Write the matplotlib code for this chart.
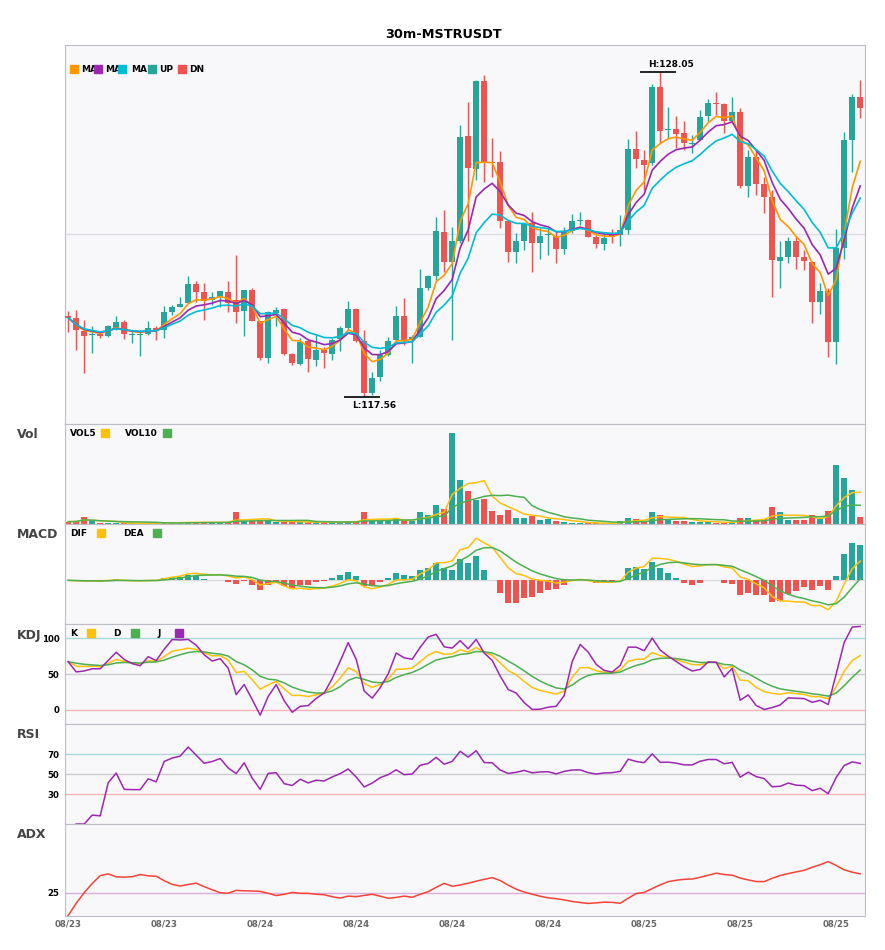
import numpy as np
import pandas as pd
import matplotlib
matplotlib.use("Agg")
import matplotlib.pyplot as plt
from matplotlib.patches import Rectangle

title = "30m-MSTRUSDT"
date_labels = ["08/23", "08/23", "08/24", "08/24", "08/24", "08/24", "08/25", "08/25", "08/25"]

# 30m candles
opens = [120.16, 120.10, 119.70, 119.57, 119.60, 119.53, 119.75, 119.99, 119.56, 119.56,
         119.59, 119.78, 119.71, 120.31, 120.48, 120.61, 121.21, 120.94, 120.70, 120.80,
         120.95, 120.70, 120.34, 121.02, 120.01, 118.81, 120.26, 120.39, 118.95, 118.63,
         119.36, 118.74, 119.08, 118.95, 119.42, 119.80, 120.39, 119.37, 117.68, 118.20,
         118.92, 119.40, 120.16, 119.40, 119.51, 121.09, 121.45, 122.88, 121.91, 122.58,
         125.98, 124.92, 127.76, 125.16, 125.16, 123.24, 122.25, 122.58, 123.17, 122.54,
         122.80, 122.77, 122.33, 122.92, 123.24, 123.27, 122.74, 122.49, 122.78, 122.79,
         122.95, 125.57, 125.21, 125.10, 127.58, 126.18, 126.20, 126.07, 125.74, 125.86,
         126.64, 127.05, 127.02, 126.48, 126.76, 124.37, 125.32, 124.44, 124.03, 121.96,
         122.09, 122.58, 122.09, 121.92, 120.64, 120.99, 119.35, 122.38, 125.86, 127.23]
highs = [120.34, 120.37, 120.03, 119.84, 119.67, 119.89, 120.16, 120.05, 119.73, 119.73,
         120.00, 119.84, 120.50, 120.53, 120.80, 121.45, 121.29, 121.23, 120.96, 120.99,
         121.31, 122.15, 121.02, 121.07, 120.02, 120.34, 120.46, 120.43, 118.97, 119.46,
         119.41, 119.57, 119.19, 119.46, 119.84, 120.67, 120.43, 119.73, 118.38, 119.08,
         119.51, 120.50, 120.75, 119.57, 121.68, 121.50, 123.38, 123.60, 123.06, 126.34,
         127.09, 127.79, 127.95, 125.91, 125.51, 123.28, 122.85, 123.17, 123.54, 123.01,
         123.01, 122.90, 123.06, 123.47, 123.54, 123.31, 122.79, 122.84, 122.99, 123.44,
         125.89, 126.15, 125.53, 127.66, 128.05, 126.93, 126.63, 126.47, 126.02, 126.82,
         127.17, 127.39, 127.04, 127.25, 126.88, 125.53, 125.53, 124.67, 124.25, 122.58,
         122.74, 122.74, 122.31, 121.96, 121.23, 121.07, 122.97, 126.11, 127.34, 127.79]
lows = [119.67, 119.08, 118.33, 118.97, 119.46, 119.49, 119.73, 119.43, 119.30, 118.87,
        119.57, 119.41, 119.46, 120.21, 120.48, 120.59, 120.64, 120.05, 120.53, 120.48,
        120.32, 119.94, 119.53, 120.00, 118.76, 118.65, 119.84, 118.92, 118.60, 118.60,
        118.38, 118.57, 118.49, 118.76, 119.03, 119.75, 119.35, 117.56, 117.63, 118.09,
        118.87, 119.38, 119.24, 118.65, 119.51, 121.02, 121.34, 121.61, 119.40, 122.52,
        122.58, 124.57, 124.51, 124.67, 123.01, 121.93, 121.90, 122.29, 121.59, 122.01,
        122.15, 121.90, 122.18, 122.85, 123.11, 122.72, 122.36, 122.29, 122.54, 122.42,
        122.81, 124.94, 124.24, 125.05, 125.75, 125.91, 125.59, 125.53, 125.43, 125.84,
        126.47, 126.66, 126.09, 126.45, 124.30, 124.00, 124.08, 123.51, 120.80, 121.07,
        121.88, 121.70, 121.66, 119.96, 120.24, 118.85, 118.62, 122.02, 124.83, 126.56]
closes = [120.12, 119.71, 119.54, 119.59, 119.54, 119.84, 119.99, 119.59, 119.58, 119.58,
          119.78, 119.70, 120.31, 120.47, 120.57, 121.21, 120.96, 120.67, 120.78, 120.97,
          120.59, 120.32, 121.02, 120.02, 118.83, 120.29, 120.37, 118.95, 118.65, 119.33,
          118.78, 119.08, 118.97, 119.41, 119.80, 120.39, 119.38, 117.68, 118.17, 118.92,
          119.37, 120.16, 119.40, 119.51, 121.07, 121.45, 122.92, 121.91, 122.60, 125.96,
          124.96, 127.76, 125.16, 125.10, 123.24, 122.25, 122.58, 123.15, 122.52, 122.76,
          122.82, 122.33, 122.92, 123.24, 123.26, 122.74, 122.49, 122.68, 122.73, 122.95,
          125.57, 125.23, 125.05, 127.58, 126.16, 126.21, 126.05, 125.77, 125.76, 126.61,
          127.04, 127.03, 126.48, 126.76, 124.37, 125.32, 124.44, 124.03, 121.99, 122.07,
          122.60, 122.09, 121.96, 120.64, 120.99, 119.35, 122.38, 125.86, 127.23, 126.88]
volumes = [2.3, 2.7, 7.3, 2.7, 1.3, 0.7, 0.7, 1.0, 0.7, 0.7,
           0.7, 1.0, 2.3, 1.0, 1.3, 2.3, 1.3, 2.3, 1.3, 1.3,
           2.3, 12.3, 3.3, 3.3, 3.3, 3.3, 2.3, 2.0, 2.0, 2.0,
           1.7, 2.0, 1.7, 1.7, 1.7, 3.3, 2.0, 12.3, 3.3, 3.3,
           3.3, 5.3, 3.3, 2.7, 12.3, 9.3, 19.3, 15.3, 90.3, 43.3,
           32.7, 23.7, 25.3, 13.3, 9.3, 14.3, 6.3, 6.3, 7.7, 4.3,
           5.3, 2.7, 2.3, 1.3, 0.7, 0.7, 0.7, 0.7, 0.7, 3.3,
           6.3, 5.3, 3.3, 12.3, 9.3, 4.3, 3.3, 3.3, 2.3, 2.3,
           1.7, 1.3, 1.3, 1.3, 6.3, 6.3, 3.7, 5.3, 17.3, 12.3,
           4.3, 4.3, 4.3, 9.3, 5.3, 13.3, 58.3, 45.3, 33.3, 7.3]

df = pd.DataFrame({"open": opens, "high": highs, "low": lows,
                   "close": closes, "volume": volumes})
x = np.arange(len(df))

UP = "#26a69a"
DN = "#ef5350"
up = df["close"] >= df["open"]
colors = np.where(up, UP, DN)

# indicators
ma_a = df["close"].ewm(span=5).mean()
ma_b = df["close"].ewm(span=8).mean()
ma_c = df["close"].ewm(span=13).mean()
vol5 = df["volume"].rolling(5, min_periods=1).mean()
vol10 = df["volume"].rolling(10, min_periods=1).mean()

dif = df["close"].ewm(span=6).mean() - df["close"].ewm(span=13).mean()
dea = dif.ewm(span=5).mean()
hist = 2 * (dif - dea)

low9 = df["low"].rolling(9, min_periods=1).min()
high9 = df["high"].rolling(9, min_periods=1).max()
rsv = (df["close"] - low9) / (high9 - low9) * 100
k = rsv.ewm(com=2, adjust=False).mean()
d = k.ewm(com=2, adjust=False).mean()
j = 3 * k - 2 * d

delta = df["close"].diff()
gain = delta.clip(lower=0)
loss = -delta.clip(upper=0)
rsi = 100 - 100 / (1 + gain.ewm(com=13).mean() / loss.ewm(com=13).mean())

up_move = df["high"].diff()
down_move = -df["low"].diff()
pdm = pd.Series(np.where((up_move > down_move) & (up_move > 0), up_move, 0.0))
mdm = pd.Series(np.where((down_move > up_move) & (down_move > 0), down_move, 0.0))
prev_close = df["close"].shift()
tr = pd.concat([df["high"] - df["low"], (df["high"] - prev_close).abs(),
                (df["low"] - prev_close).abs()], axis=1).max(axis=1)
atr = tr.ewm(span=14, adjust=False).mean()
pdi = 100 * pdm.ewm(span=14, adjust=False).mean() / atr
mdi = 100 * mdm.ewm(span=14, adjust=False).mean() / atr
dx = (100 * (pdi - mdi).abs() / (pdi + mdi)).fillna(0)
adx = dx.ewm(span=14, adjust=False).mean()

# layout
W, H = 885, 950
fig = plt.figure(figsize=(W / 100, H / 100), dpi=100)
BG = "#f8f8fb"
SPINE = "#bdbdc5"


def add_panel(top, bottom):
    ax = fig.add_axes([65 / W, 1 - bottom / H, 800 / W, (bottom - top) / H])
    ax.set_facecolor(BG)
    for s in ax.spines.values():
        s.set_color(SPINE)
    ax.tick_params(length=0, labelsize=6.2, labelcolor="black", pad=4)
    ax.set_xlim(-0.4, len(df) - 0.4)
    ax.set_xticks([])
    ax.set_yticks([])
    return ax


def px_text(px, py, s, **kw):
    fig.text(px / W, 1 - py / H, s, va="center", **kw)


def px_square(px, py, color):
    fig.patches.append(Rectangle((px / W, 1 - (py + 4) / H), 8 / W, 8 / H,
                                 transform=fig.transFigure, color=color, zorder=10))


ax_main = add_panel(45, 424)
ax_vol = add_panel(424, 524)
ax_macd = add_panel(524, 624)
ax_kdj = add_panel(624, 724)
ax_rsi = add_panel(724, 824)
ax_adx = add_panel(824, 915.5)

# main candles
lo, hi = df["low"].min(), df["high"].max()
rng = hi - lo
ax_main.axhline((lo + hi) / 2, color="#dcdce2", lw=1, zorder=0)
ax_main.vlines(x, df["low"], df["high"], colors=colors, lw=1, zorder=2)
body = (df["close"] - df["open"]).abs().clip(lower=0.025)
ax_main.bar(x, body, bottom=df[["open", "close"]].min(axis=1), width=0.72,
            color=colors, zorder=3)
ax_main.plot(x, ma_a, color="#ff9800", lw=1.2, zorder=4)
ax_main.plot(x, ma_b, color="#9c27b0", lw=1.2, zorder=4)
ax_main.plot(x, ma_c, color="#00bcd4", lw=1.2, zorder=4)
ax_main.set_ylim(lo - 0.083 * rng, hi + 0.083 * rng)

ih = int(df["high"].idxmax())
il = int(df["low"].idxmin())
ax_main.hlines(hi, ih - 2.5, ih + 2, color="black", lw=1.2)
ax_main.annotate(f"H:{hi:.2f}", (ih - 1.5, hi), xytext=(0, 2), textcoords="offset points",
                 ha="left", va="bottom", fontsize=6.5, fontweight="bold")
ax_main.hlines(lo, il - 2.5, il + 2, color="black", lw=1.2)
ax_main.annotate(f"L:{lo:.2f}", (il - 1.5, lo), xytext=(0, -3), textcoords="offset points",
                 ha="left", va="top", fontsize=6.5, fontweight="bold")

# volume
ax_vol.bar(x, df["volume"], width=0.72, color=colors)
ax_vol.plot(x, vol5, color="#ffc107", lw=1.1)
ax_vol.plot(x, vol10, color="#4caf50", lw=1.1)
ax_vol.set_ylim(0, df["volume"].max() * 1.1)

# macd
ax_macd.axhline(0, color="#dddddd", lw=1, zorder=0)
ax_macd.bar(x, hist, width=0.72, color=np.where(hist >= 0, UP, DN))
ax_macd.plot(x, dif, color="#ffc107", lw=1.1)
ax_macd.plot(x, dea, color="#4caf50", lw=1.1)
mx = max(dif.max(), dea.max(), hist.max())
mn = min(dif.min(), dea.min(), hist.min())
ax_macd.set_ylim(mn - 0.2 * (mx - mn), mx + 0.2 * (mx - mn))

# kdj
for lvl, c in [(100, "#a8d8d8"), (50, "#cccccc"), (0, "#f5b5b5")]:
    ax_kdj.axhline(lvl, color=c, lw=1, zorder=0)
ax_kdj.plot(x, k, color="#ffc107", lw=1.1)
ax_kdj.plot(x, d, color="#4caf50", lw=1.1)
ax_kdj.plot(x, j, color="#9c27b0", lw=1.1)
ax_kdj.set_ylim(-20, 120)
ax_kdj.set_yticks([0, 50, 100])
ax_kdj.set_yticklabels(["0", "50", "100"], fontweight="bold")

# rsi
for lvl, c in [(70, "#a8d8d8"), (50, "#cccccc"), (30, "#f5b5b5")]:
    ax_rsi.axhline(lvl, color=c, lw=1, zorder=0)
ax_rsi.plot(x, rsi, color="#9c27b0", lw=1.1)
ax_rsi.set_ylim(0, 100)
ax_rsi.set_yticks([30, 50, 70])
ax_rsi.set_yticklabels(["30", "50", "70"], fontweight="bold")

# adx
ax_adx.axhline(25, color="#dcaee0", lw=1, zorder=0)
ax_adx.plot(x, adx, color="#f44336", lw=1.1)
ax_adx.set_ylim(0, 100)
ax_adx.set_yticks([25])
ax_adx.set_yticklabels(["25"], fontweight="bold")
ax_adx.set_xticks(x[::12])
ax_adx.set_xticklabels(date_labels, fontsize=6.2, fontweight="bold", color="#666666")
ax_adx.tick_params(axis="x", pad=3)

# titles, panel labels, legends
px_text(443, 34, title, ha="center", fontsize=9.3, fontweight="bold")
for name, py in [("Vol", 435), ("MACD", 535), ("KDJ", 635), ("RSI", 735), ("ADX", 835)]:
    px_text(17, py, name, ha="left", fontsize=9, fontweight="bold", color="#444444")

lkw = dict(ha="left", fontsize=6.5, fontweight="bold")
for sx, c in [(70, "#ff9800"), (94, "#9c27b0"), (118, "#00bcd4"), (148, UP), (178, DN)]:
    px_square(sx, 69, c)
for tx, s in [(81, "MA"), (105, "MA"), (131, "MA"), (159, "UP"), (189, "DN")]:
    px_text(tx, 69, s, **lkw)

px_text(70, 433, "VOL5", **lkw)
px_square(101, 433, "#ffc107")
px_text(125, 433, "VOL10", **lkw)
px_square(163, 433, "#4caf50")

px_text(70, 533, "DIF", **lkw)
px_square(97, 533, "#ffc107")
px_text(123, 533, "DEA", **lkw)
px_square(153, 533, "#4caf50")

px_text(70, 633, "K", **lkw)
px_square(87, 633, "#ffc107")
px_text(113, 633, "D", **lkw)
px_square(131, 633, "#4caf50")
px_text(157, 633, "J", **lkw)
px_square(175, 633, "#9c27b0")

fig.savefig("out.png", dpi=100, facecolor="white")
